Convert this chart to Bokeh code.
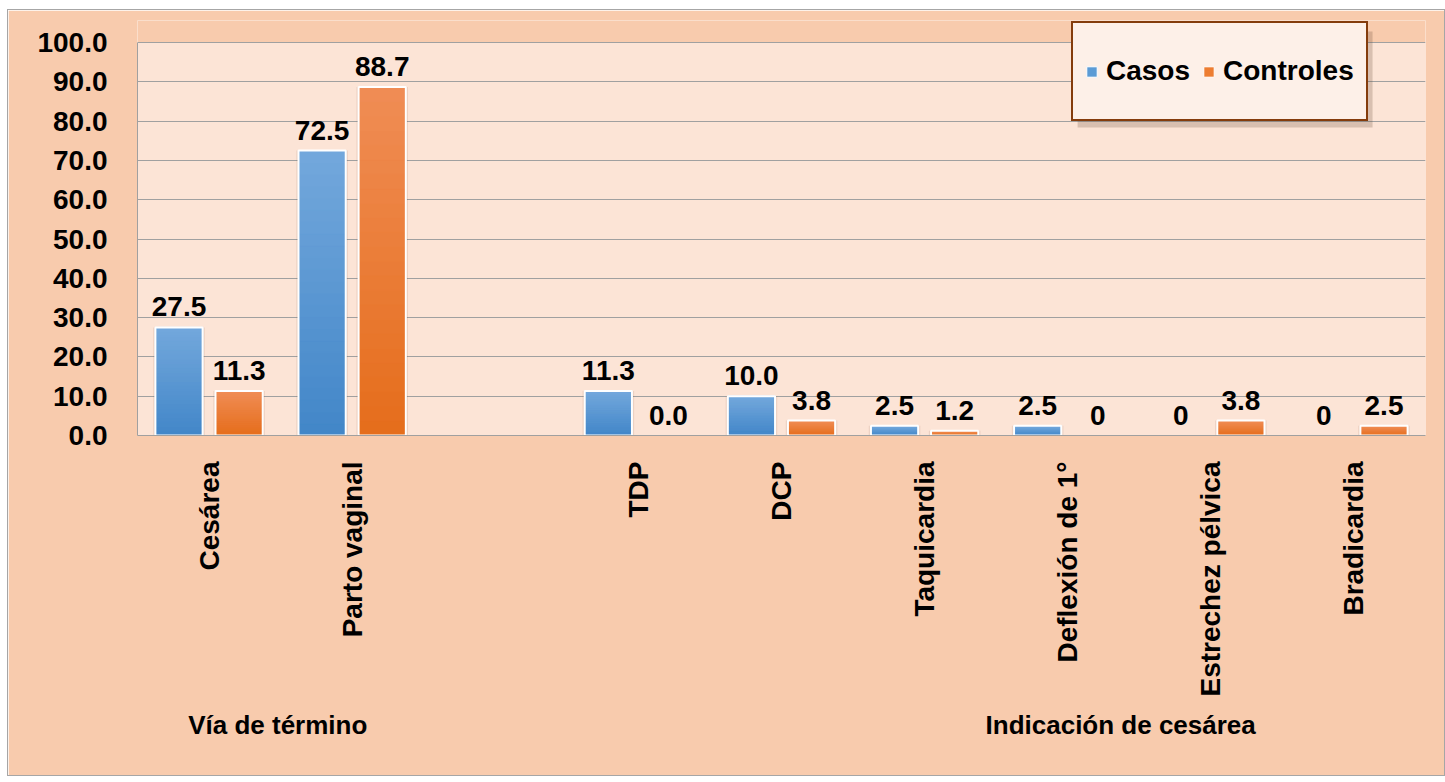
import math
import numpy as np
from bokeh.plotting import figure
from bokeh.models import (ColumnDataSource, LabelSet, Legend, LegendItem, LinearAxis,
                          PrintfTickFormatter, FixedTicker, Range1d, BoxAnnotation)
from bokeh.core.properties import value
from bokeh.embed import file_html
from bokeh.resources import INLINE

categories = ["Cesárea", "Parto vaginal", "", "TDP", "DCP", "Taquicardia",
              "Deflexión de 1°", "Estrechez pélvica", "Bradicardia"]
casos = [27.5, 72.5, 0, 11.3, 10.0, 2.5, 2.5, 0, 0]
controles = [11.3, 88.7, 0, 0.0, 3.8, 1.2, 0, 3.8, 2.5]
casos_labels = ["27.5", "72.5", "", "11.3", "10.0", "2.5", "2.5", "0", "0"]
controles_labels = ["11.3", "88.7", "", "0.0", "3.8", "1.2", "0", "3.8", "2.5"]
y_ticks = [0, 10, 20, 30, 40, 50, 60, 70, 80, 90, 100]
group_labels = ["Vía de término", "Indicación de cesárea"]
group_x = [0.98, 6.87]

FONT = "Liberation Sans"
BLUE_TOP, BLUE_BOT = (0x73, 0xa8, 0xdc), (0x42, 0x86, 0xc8)
ORANGE_TOP, ORANGE_BOT = (0xf0, 0x8d, 0x55), (0xe5, 0x6d, 0x1b)
OUTER = "#f8cbad"
INNER = "#fce4d6"

n = len(categories)
centers = np.arange(n) + 0.5
off = 0.21
bw = 0.33
Y_END = 105.6

p = figure(width=1436, height=765, x_range=Range1d(0, n), y_range=Range1d(0, Y_END),
           output_backend="svg", toolbar_location=None,
           min_border_left=129, min_border_right=19, min_border_top=10, min_border_bottom=340)
p.margin = (10, 0, 0, 8)
p.styles = {"outline": "1px solid #a6a6a6"}
p.background_fill_color = INNER
p.border_fill_color = OUTER
p.outline_line_color = None

c_arr = np.array(casos, dtype=float)
k_arr = np.array(controles, dtype=float)
mc = c_arr > 0
mk = k_arr > 0


def hexc(a, b, t):
    return "#%02x%02x%02x" % tuple(int(round(a[i] + (b[i] - a[i]) * t)) for i in range(3))


NS = 24


def gradient_bars(xs, tops, ctop, cbot):
    xx, bb, tt, cc = [], [], [], []
    for x, top in zip(xs, tops):
        for j in range(NS):
            xx.append(x)
            bb.append(top * j / NS)
            tt.append(top * (j + 1) / NS)
            cc.append(hexc(cbot, ctop, (j + 0.5) / NS))
    src = ColumnDataSource(dict(x=xx, bottom=bb, top=tt, color=cc))
    p.vbar(x="x", bottom="bottom", top="top", width=bw, source=src,
           fill_color="color", line_color="color", line_width=1)


src_c = ColumnDataSource(dict(x=centers[mc] - off, top=c_arr[mc]))
src_k = ColumnDataSource(dict(x=centers[mk] + off, top=k_arr[mk]))

# soft shadows
for s in (src_c, src_k):
    p.vbar(x="x", top="top", width=bw + 0.03, bottom=-0.8, source=s,
           fill_color="#7a4a30", fill_alpha=0.12, line_color=None)

# solid base bars (also used for the legend swatches)
rc = p.vbar(x="x", top="top", width=bw, source=src_c, fill_color="#5b9bd5",
            line_color="white", line_width=1)
rk = p.vbar(x="x", top="top", width=bw, source=src_k, fill_color="#ed7d31",
            line_color="white", line_width=1)

gradient_bars(centers[mc] - off, c_arr[mc], BLUE_TOP, BLUE_BOT)
gradient_bars(centers[mk] + off, k_arr[mk], ORANGE_TOP, ORANGE_BOT)

for s in (src_c, src_k):
    p.vbar(x="x", top="top", width=bw, source=s, fill_alpha=0,
           line_color="white", line_width=2)

lab_c = ColumnDataSource(dict(x=centers - off, y=c_arr, t=casos_labels))
lab_k = ColumnDataSource(dict(x=centers + off, y=k_arr, t=controles_labels))
for s in (lab_c, lab_k):
    p.add_layout(LabelSet(x="x", y="y", text="t", source=s, y_offset=11,
                          text_align="center", text_baseline="bottom",
                          text_font=value(FONT), text_font_style="bold",
                          text_font_size="28px", text_color="black"))

# axes
p.yaxis.ticker = FixedTicker(ticks=y_ticks)
p.yaxis.bounds = (0, 100)
p.yaxis.formatter = PrintfTickFormatter(format="%.1f")
p.yaxis.major_label_text_font = FONT
p.yaxis.major_label_text_font_style = "bold"
p.yaxis.major_label_text_font_size = "28px"
p.yaxis.major_label_text_color = "black"
p.yaxis.major_tick_line_color = None
p.yaxis.minor_tick_line_color = None
p.yaxis.axis_line_color = "#a0a0a0"
p.yaxis.major_label_standoff = 24

p.xaxis.ticker = FixedTicker(ticks=list(centers))
p.xaxis.major_label_overrides = {float(c): lab for c, lab in zip(centers, categories)}
p.xaxis.major_label_orientation = math.pi / 2
p.xaxis.major_label_text_font = FONT
p.xaxis.major_label_text_font_style = "bold"
p.xaxis.major_label_text_font_size = "28px"
p.xaxis.major_label_text_color = "black"
p.xaxis.major_tick_line_color = None
p.xaxis.minor_tick_line_color = None
p.xaxis.axis_line_color = "#a0a0a0"
p.xaxis.major_label_standoff = 20

gaxis = LinearAxis(ticker=FixedTicker(ticks=group_x),
                   major_label_overrides={float(gx): gl for gx, gl in zip(group_x, group_labels)})
gaxis.axis_line_color = None
gaxis.major_tick_line_color = None
gaxis.minor_tick_line_color = None
gaxis.major_label_text_font = FONT
gaxis.major_label_text_font_style = "bold"
gaxis.major_label_text_font_size = "26px"
gaxis.major_label_text_color = "black"
gaxis.major_label_standoff = 4
p.add_layout(gaxis, "below")

p.xgrid.grid_line_color = None
p.ygrid.ticker = FixedTicker(ticks=y_ticks)
p.ygrid.grid_line_color = "#a0a0a0"
p.ygrid.grid_line_width = 1

# cover the strip above 100 with the outer colour
p.add_layout(BoxAnnotation(bottom=100.15, fill_color=OUTER, fill_alpha=1, line_color=None))

# legend shadow
p.add_layout(BoxAnnotation(left=6.569, right=8.63, top=102.8, bottom=78.4,
                           fill_color="#5a3a28", fill_alpha=0.22, line_color=None))

legend = Legend(items=[LegendItem(label="Casos", renderers=[rc]),
                       LegendItem(label="Controles", renderers=[rk])],
                orientation="horizontal", location=(934, 314))
legend.label_text_font = FONT
legend.label_text_font_style = "bold"
legend.label_text_font_size = "28px"
legend.label_text_color = "black"
legend.glyph_width = 13
legend.glyph_height = 13
legend.label_standoff = 8
legend.spacing = 12
legend.padding = 12
legend.label_height = 72
legend.margin = 0
legend.background_fill_color = "#fdf0e8"
legend.background_fill_alpha = 1
legend.border_line_color = "#843c0c"
legend.border_line_alpha = 1
legend.border_line_width = 2
p.add_layout(legend, "center")

open("out.html", "w").write(file_html(p, INLINE))
